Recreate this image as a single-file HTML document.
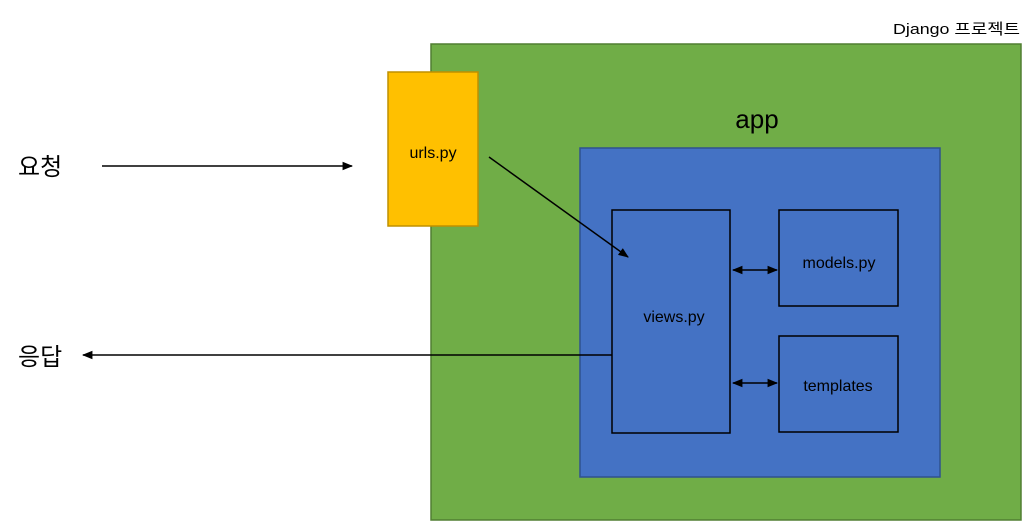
<!DOCTYPE html>
<html><head><meta charset="utf-8"><style>
html,body{margin:0;padding:0;background:#fff;}
svg{display:block;font-family:"Liberation Sans","Noto Sans CJK KR","NanumGothic",sans-serif;}
</style></head><body>
<svg width="1032" height="530" viewBox="0 0 1032 530">
<defs>
<marker id="ah" viewBox="0 0 10 10" refX="9" refY="5" markerWidth="7" markerHeight="7" orient="auto-start-reverse"><path d="M0,1 L10,5 L0,9 z" fill="#000"/></marker>
</defs>
<text x="893" y="34" font-size="15" textLength="127" lengthAdjust="spacingAndGlyphs" fill="#000">Django 프로젝트</text>
<rect x="431" y="44" width="590" height="476" fill="#70ad47" stroke="#507e32" stroke-width="1.5"/>
<rect x="388" y="72" width="90" height="154" fill="#ffc000" stroke="#bf9000" stroke-width="1.5"/>
<text x="433" y="158" font-size="16" text-anchor="middle">urls.py</text>
<text x="757" y="128" font-size="26" text-anchor="middle">app</text>
<rect x="580" y="148" width="360" height="329" fill="#4472c4" stroke="#2f528f" stroke-width="1.5"/>
<rect x="612" y="210" width="118" height="223" fill="#4472c4" stroke="#000" stroke-width="1.5"/>
<text x="674" y="322" font-size="16" text-anchor="middle">views.py</text>
<rect x="779" y="210" width="119" height="96" fill="#4472c4" stroke="#000" stroke-width="1.5"/>
<text x="839" y="268" font-size="16" text-anchor="middle">models.py</text>
<rect x="779" y="336" width="119" height="96" fill="#4472c4" stroke="#000" stroke-width="1.5"/>
<text x="838" y="391" font-size="16" text-anchor="middle">templates</text>
<text x="18" y="175" font-size="24">요청</text>
<text x="18" y="365" font-size="24">응답</text>
<line x1="102" y1="166" x2="352" y2="166" stroke="#000" stroke-width="1.5" marker-end="url(#ah)"/>
<line x1="612" y1="355" x2="83" y2="355" stroke="#000" stroke-width="1.5" marker-end="url(#ah)"/>
<line x1="489" y1="157" x2="628" y2="257" stroke="#000" stroke-width="1.5" marker-end="url(#ah)"/>
<line x1="733" y1="270" x2="777" y2="270" stroke="#000" stroke-width="1.5" marker-start="url(#ah)" marker-end="url(#ah)"/>
<line x1="733" y1="383" x2="777" y2="383" stroke="#000" stroke-width="1.5" marker-start="url(#ah)" marker-end="url(#ah)"/>
</svg>
</body></html>
